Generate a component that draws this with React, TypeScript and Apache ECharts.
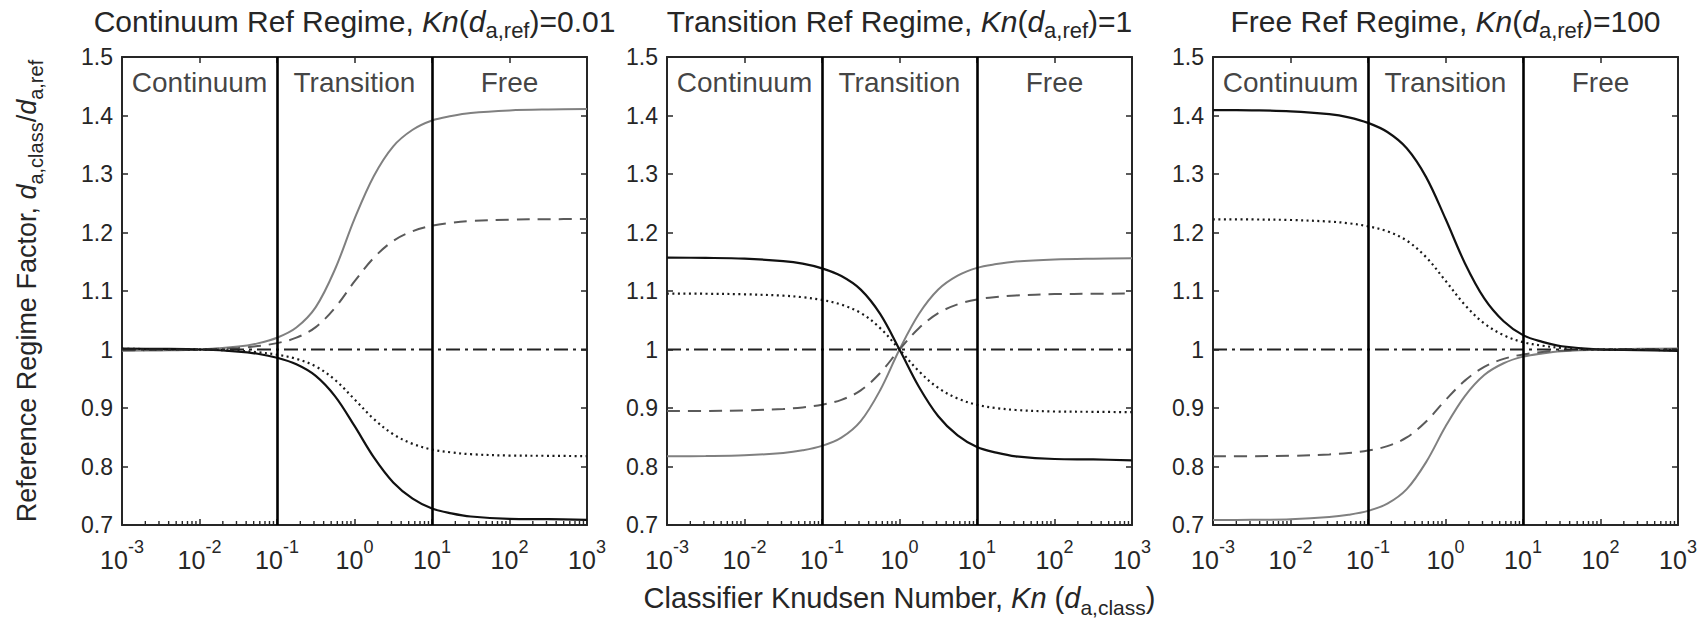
import React, { useEffect, useRef } from "react";
import * as echarts from "echarts";

// Classifier Knudsen number sample points, 10^-3 … 10^3 (quarter/half decades)
const knudsen = [
  0.001, 0.0031623, 0.01, 0.031623, 0.056234, 0.1, 0.17783, 0.31623, 0.56234, 1,
  1.7783, 3.1623, 5.6234, 10, 17.783, 31.623, 100, 316.23, 1000,
];

// Continuum reference regime, Kn(d_a,ref) = 0.01
const contRatio20 = [0.9979, 0.9984, 1.0, 1.005, 1.0105, 1.0201, 1.0376, 1.0725, 1.1376, 1.2233, 1.2966, 1.3473, 1.3756, 1.3915, 1.3992, 1.4044, 1.4087, 1.4103, 1.4109];
const contRatio15 = [0.9988, 0.9991, 1.0, 1.0027, 1.0058, 1.0109, 1.0202, 1.0383, 1.0716, 1.1163, 1.1569, 1.1856, 1.2023, 1.2117, 1.2166, 1.2195, 1.222, 1.2227, 1.2231];
const contRatio067 = [1.001, 1.0007, 1.0, 0.9978, 0.9954, 0.9911, 0.9841, 0.9711, 0.9479, 0.9149, 0.8811, 0.8551, 0.8387, 0.829, 0.8241, 0.821, 0.8187, 0.8183, 0.8176];
const contRatio05 = [1.0015, 1.0011, 1.0, 0.9965, 0.9927, 0.9859, 0.9748, 0.955, 0.92, 0.8693, 0.8155, 0.7727, 0.745, 0.7281, 0.7199, 0.7145, 0.7106, 0.71, 0.7087];

// Transition reference regime, Kn(d_a,ref) = 1
const tranRatio20 = [0.8175, 0.8179, 0.8192, 0.8232, 0.8276, 0.8352, 0.8493, 0.8776, 0.9303, 1.0, 1.0606, 1.1025, 1.1262, 1.1395, 1.146, 1.1504, 1.154, 1.1553, 1.1558];
const tranRatio15 = [0.8948, 0.895, 0.8958, 0.8983, 0.901, 0.9056, 0.9139, 0.9301, 0.9599, 1.0, 1.0364, 1.0621, 1.0771, 1.0855, 1.0898, 1.0924, 1.0947, 1.0952, 1.0956];
const tranRatio067 = [1.0955, 1.0953, 1.0944, 1.092, 1.0894, 1.0847, 1.0767, 1.0624, 1.0366, 1.0, 0.9629, 0.9343, 0.9162, 0.9054, 0.8999, 0.8966, 0.894, 0.8935, 0.8928];
const tranRatio05 = [1.157, 1.1566, 1.1553, 1.1511, 1.1467, 1.1387, 1.1256, 1.1024, 1.0609, 1.0, 0.9364, 0.8859, 0.8531, 0.8333, 0.8237, 0.8174, 0.8128, 0.8121, 0.8106];

// Free molecular reference regime, Kn(d_a,ref) = 100
const freeRatio20 = [0.7084, 0.7088, 0.7099, 0.7135, 0.7174, 0.7241, 0.7365, 0.7613, 0.8075, 0.8683, 0.9204, 0.9564, 0.9765, 0.9878, 0.9933, 0.9969, 1.0, 1.0011, 1.0016];
const freeRatio15 = [0.8174, 0.8176, 0.8183, 0.8206, 0.8231, 0.8273, 0.8348, 0.8497, 0.8769, 0.9135, 0.9468, 0.9702, 0.9839, 0.9916, 0.9956, 0.998, 1.0, 1.0005, 1.0009];
const freeRatio067 = [1.2226, 1.2223, 1.2214, 1.2187, 1.2158, 1.2106, 1.202, 1.1861, 1.1578, 1.1175, 1.0762, 1.0445, 1.0244, 1.0125, 1.0065, 1.0028, 1.0, 0.9995, 0.9987];
const freeRatio05 = [1.4093, 1.4088, 1.4072, 1.4023, 1.3969, 1.3874, 1.3718, 1.344, 1.2947, 1.2234, 1.1476, 1.0874, 1.0483, 1.0246, 1.0131, 1.0055, 1.0, 0.9991, 0.9974];

// Unit-density-ratio reference line
const unityKn = [0.001, 1000];
const unityRatio = [1, 1];

const panelTitles = [
  "Continuum Ref Regime, {i|Kn}({i|d}{sub|a,ref})=0.01",
  "Transition Ref Regime, {i|Kn}({i|d}{sub|a,ref})=1",
  "Free Ref Regime, {i|Kn}({i|d}{sub|a,ref})=100",
];
const panelCurves = [
  [contRatio20, contRatio15, contRatio067, contRatio05],
  [tranRatio20, tranRatio15, tranRatio067, tranRatio05],
  [freeRatio20, freeRatio15, freeRatio067, freeRatio05],
];
const regimeNames = ["Continuum", "Transition", "Free"];
const regimeLabelKn = [0.01, 1, 100];
const regimeLabelY = 1.456;
const regimeBoundaryKn = [0.1, 10];

const xMin = 0.001;
const xMax = 1000;
const yMin = 0.7;
const yMax = 1.5;
const yStep = 0.1;

const xTitle = "Classifier Knudsen Number, {i|Kn} ({i|d}{sub|a,class})";
const yTitle = "Reference Regime Factor, {i|d}{sub|a,class}/{i|d}{sub|a,ref}";

const FONT = '"Liberation Sans", Arial, Helvetica, sans-serif';
const INK = "#262626";

const gridLeft = [122, 667, 1213];
const gridTop = 57;
const gridWidth = 465;
const gridHeight = 468;

const curveStyles = [
  { color: "#808080", width: 2, type: "solid" as any },
  { color: "#5a5a5a", width: 2, type: [13, 8] as any },
  { color: "#1a1a1a", width: 2.2, type: [2, 3.5] as any },
  { color: "#111111", width: 2.2, type: "solid" as any },
];

// minor tick positions of the logarithmic x axis (2..9 × 10^n)
const minorTickKn: number[] = [];
for (let e = -3; e < 3; e++) {
  for (let m = 2; m <= 9; m++) minorTickKn.push(m * Math.pow(10, e));
}

function textRich(size: number, subSize: number) {
  return {
    i: { fontStyle: "italic", fontSize: size, fontFamily: FONT, fill: INK, color: INK },
    sub: {
      fontSize: subSize,
      fontFamily: FONT,
      fill: INK,
      color: INK,
      verticalAlign: "bottom",
      padding: [Math.round(size * 0.62), 0, 0, 0],
    },
  };
}

function buildOption() {
  const grids: any[] = [];
  const xAxes: any[] = [];
  const yAxes: any[] = [];
  const series: any[] = [];
  const graphics: any[] = [];

  const axisLine = { show: true, onZero: false, lineStyle: { color: INK, width: 2 } };

  for (let p = 0; p < 3; p++) {
    grids.push({ left: gridLeft[p], top: gridTop, width: gridWidth, height: gridHeight, containLabel: false });

    const xBase = {
      type: "log",
      logBase: 10,
      min: xMin,
      max: xMax,
      gridIndex: p,
      splitLine: { show: false },
      axisLine,
      axisTick: { show: true, inside: true, length: 6, lineStyle: { color: INK, width: 1.5 } },
      minorTick: { show: false },
    };
    xAxes.push({
      ...xBase,
      position: "bottom",
      axisLabel: {
        show: true,
        margin: 13,
        formatter: (v: number) => `{b|10}{s|${Math.round(Math.log10(v))}}`,
        rich: {
          b: { fontSize: 25, fontFamily: FONT, color: INK, padding: [9, 0, 0, 0] },
          s: { fontSize: 18, fontFamily: FONT, color: INK, verticalAlign: "top" },
        },
      },
    });
    xAxes.push({ ...xBase, position: "top", axisLabel: { show: false } });

    const yBase = {
      type: "value",
      min: yMin,
      max: yMax,
      interval: yStep,
      gridIndex: p,
      splitLine: { show: false },
      axisLine,
      axisTick: { show: true, inside: true, length: 6, lineStyle: { color: INK, width: 1.5 } },
    };
    yAxes.push({
      ...yBase,
      position: "left",
      axisLabel: {
        show: true,
        margin: 9,
        fontSize: 23,
        fontFamily: FONT,
        color: INK,
        formatter: (v: number) => String(Math.round(v * 10) / 10),
      },
    });
    yAxes.push({ ...yBase, position: "right", axisLabel: { show: false } });

    const xi = 2 * p;
    const yi = 2 * p;

    panelCurves[p].forEach((vals, c) => {
      const st = curveStyles[c];
      series.push({
        type: "line",
        xAxisIndex: xi,
        yAxisIndex: yi,
        data: knudsen.map((k, j) => [k, vals[j]]),
        showSymbol: false,
        smooth: 0.35,
        lineStyle: { color: st.color, width: st.width, type: st.type, cap: "butt" },
        silent: true,
        z: 2,
      });
    });

    // flat reference line at 1
    series.push({
      type: "line",
      xAxisIndex: xi,
      yAxisIndex: yi,
      data: unityKn.map((k, j) => [k, unityRatio[j]]),
      showSymbol: false,
      lineStyle: { color: "#222222", width: 2, type: [14, 5, 3, 5] },
      silent: true,
      z: 2,
      markLine: {
        silent: true,
        symbol: "none",
        label: { show: false },
        lineStyle: { color: "#000000", width: 2.6, type: "solid" },
        data: regimeBoundaryKn.map((k) => ({ xAxis: k })),
        z: 5,
      },
    });

    // regime names across the top of each panel
    series.push({
      type: "scatter",
      xAxisIndex: xi,
      yAxisIndex: yi,
      data: regimeLabelKn.map((k) => [k, regimeLabelY]),
      symbolSize: 0,
      silent: true,
      label: {
        show: true,
        position: "inside",
        fontSize: 28,
        fontFamily: FONT,
        color: "#111111",
        formatter: (prm: any) => regimeNames[prm.dataIndex],
      },
      z: 6,
    });

    // minor ticks along the bottom axis
    series.push({
      type: "custom",
      xAxisIndex: xi,
      yAxisIndex: yi,
      silent: true,
      data: minorTickKn.map((k) => [k, yMin]),
      encode: { x: 0, y: 1 },
      renderItem: (_params: any, api: any) => {
        const pt = api.coord([api.value(0), api.value(1)]);
        return {
          type: "line",
          shape: { x1: pt[0], y1: pt[1], x2: pt[0], y2: pt[1] - 4 },
          style: { stroke: INK, lineWidth: 1.4 },
        };
      },
      z: 4,
    });

    graphics.push({
      type: "text",
      x: gridLeft[p] + gridWidth / 2,
      y: 21,
      style: {
        text: panelTitles[p],
        rich: textRich(30, 22),
        fontSize: 30,
        fontFamily: FONT,
        fill: INK,
        align: "center",
        verticalAlign: "middle",
      },
    });
  }

  graphics.push({
    type: "text",
    x: gridLeft[1] + gridWidth / 2,
    y: 598,
    style: {
      text: xTitle,
      rich: textRich(29, 21),
      fontSize: 29,
      fontFamily: FONT,
      fill: INK,
      align: "center",
      verticalAlign: "middle",
    },
  });
  graphics.push({
    type: "text",
    x: 27,
    y: gridTop + gridHeight / 2,
    rotation: Math.PI / 2,
    style: {
      text: yTitle,
      rich: textRich(27, 20),
      fontSize: 27,
      fontFamily: FONT,
      fill: INK,
      align: "center",
      verticalAlign: "middle",
    },
  });

  return {
    animation: false,
    backgroundColor: "#ffffff",
    grid: grids,
    xAxis: xAxes,
    yAxis: yAxes,
    series,
    graphic: graphics,
  };
}

export default function App() {
  const ref = useRef<HTMLDivElement>(null);
  useEffect(() => {
    if (!ref.current) return;
    const chart = echarts.init(ref.current, null, { renderer: "svg" });
    chart.setOption(buildOption() as any);
    return () => chart.dispose();
  }, []);
  return (
    <div
      ref={ref}
      style={{ position: "fixed", left: 0, top: 0, width: 1708, height: 628, background: "#ffffff" }}
    />
  );
}
